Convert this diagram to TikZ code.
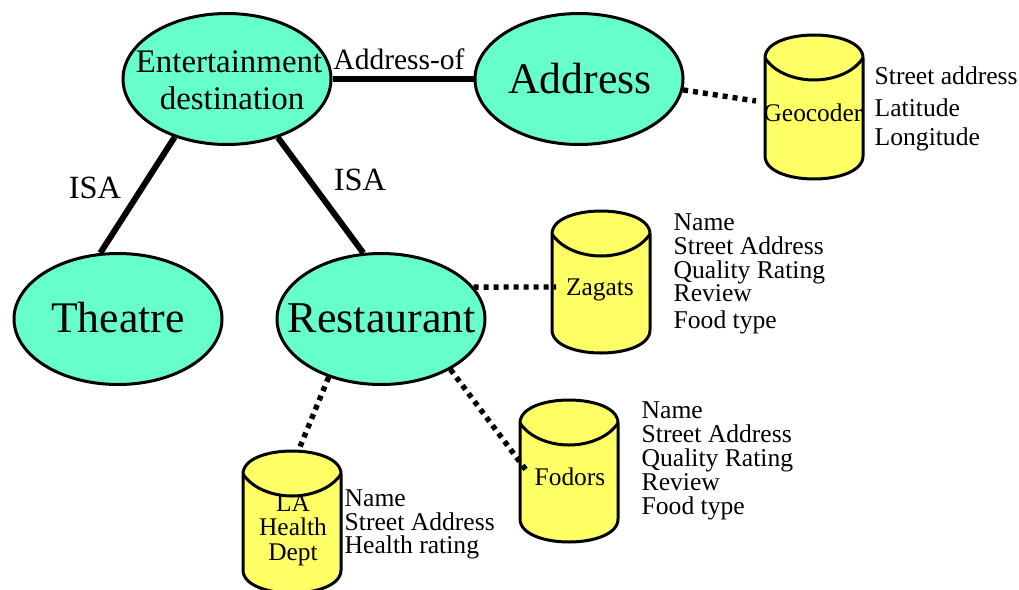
\documentclass[tikz,border=0pt]{standalone}
\usepackage{fontspec}
\setmainfont{Liberation Serif}
\usetikzlibrary{shapes.geometric}
\definecolor{aqua}{HTML}{66FFCC}
\definecolor{cylfill}{HTML}{FFFF66}
\newcommand{\fsz}[1]{\fontsize{#1}{#1}\selectfont}
\tikzset{
  entity/.style={ellipse,draw=black,line width=3pt,fill=aqua,inner sep=0pt,minimum width=208pt,minimum height=131pt},
  entitytext/.style={inner sep=0pt,align=center},
  solidlink/.style={line width=6pt,line cap=butt},
  dotlink/.style={line width=5.4pt,dash pattern=on 5pt off 5pt},
  cylbody/.style={draw=black,line width=3pt,fill=cylfill},
  cylarc/.style={draw=black,line width=3pt},
  cylbox/.style={inner sep=0pt,minimum width=98pt,minimum height=141pt},
  cyltext/.style={inner sep=0pt,align=center,font=\fsz{25.4}},
  attr/.style={anchor=base west,inner sep=0pt,font=\fsz{25.6}},
  linklabel/.style={anchor=base,inner sep=0pt}
}
\begin{document}
\begin{tikzpicture}[x=1pt,y=-1pt]
\useasboundingbox (0,0) rectangle (1019,589);

\foreach \cx/\ty/\bt in {814/35/121,601/211/119,569/400/119,292/451/119}{
  \draw[cylbody] (\cx-49,\ty+23) .. controls (\cx-49,\ty+8) and (\cx-25,\ty) .. (\cx,\ty)
     .. controls (\cx+25,\ty) and (\cx+49,\ty+8) .. (\cx+49,\ty+23)
     -- (\cx+49,\ty+\bt) .. controls (\cx+49,\ty+\bt+15) and (\cx+25,\ty+\bt+23) .. (\cx,\ty+\bt+23)
     .. controls (\cx-25,\ty+\bt+23) and (\cx-49,\ty+\bt+15) .. (\cx-49,\ty+\bt) -- cycle;
  \draw[cylarc] (\cx-49,\ty+23) .. controls (\cx-40,\ty+37) and (\cx-20,\ty+45) .. (\cx,\ty+45)
     .. controls (\cx+20,\ty+45) and (\cx+40,\ty+37) .. (\cx+49,\ty+23);
}

\node[entity] (ent) at (227,79) {};
\node[entity] (addr) at (579,79) {};
\node[entity] (thea) at (118,319) {};
\node[entity] (rest) at (381,319) {};
\node[entitytext,font=\fsz{32.9}] (entt) at (229,80) {Entertainment\\[4pt]\hspace{6pt}destination};
\node[entitytext,font=\fsz{43.7}] (addrt) at (580,79) {Address};
\node[entitytext,font=\fsz{43.7}] (theat) at (118,318) {Theatre};
\node[entitytext,font=\fsz{44}] (restt) at (382,318) {Restaurant};

\node[cylbox] (geo) at (814,106) {};
\node[cyltext] (geot) at (813,113) {Geocoder};
\node[cylbox] (zag) at (601,282) {};
\node[cyltext] (zagt) at (600,290) {Zagats};
\node[cylbox] (fod) at (569,471) {};
\node[cyltext] (fodt) at (570,477) {Fodors};
\node[cylbox] (la) at (292,522) {};
\node[cyltext] (lat) at (293,530) {LA\\[-1pt]Health\\[-1pt]Dept};

\draw[solidlink] (ent.0) -- (addr.180);
\draw[solidlink] (ent.-132) -- (thea.105);
\draw[solidlink] (ent.-49) -- (rest.105);

\coordinate (geoin) at (756,101);
\coordinate (fodin) at (526,470);
\coordinate (zagin) at (556,287);
\draw[dotlink] (addr.-6) -- (geoin);
\draw[dotlink] (rest.19) -- (zagin);
\draw[dotlink] (rest.-132) -- (la.85);
\draw[dotlink] (rest.-36) -- (fodin);

\node[linklabel,font=\fsz{29.5}] (lbaddr) at (399,69) {Address-of};
\node[linklabel,font=\fsz{32.4}] (lbisa1) at (95,198) {ISA};
\node[linklabel,font=\fsz{32.4}] (lbisa2) at (360,190) {ISA};

\node[attr] (g1) at (874.5,84) {Street address};
\node[attr] (g2) at (874.5,116) {Latitude};
\node[attr] (g3) at (874.5,145) {Longitude};

\node[attr] (z1) at (673.5,230) {Name};
\node[attr] (z2) at (673.5,254) {Street Address};
\node[attr] (z3) at (673.5,278) {Quality Rating};
\node[attr] (z4) at (673.5,301) {Review};
\node[attr] (z5) at (673.5,328) {Food type};

\node[attr] (f1) at (641.5,418) {Name};
\node[attr] (f2) at (641.5,442) {Street Address};
\node[attr] (f3) at (641.5,466) {Quality Rating};
\node[attr] (f4) at (641.5,490) {Review};
\node[attr] (f5) at (641.5,514) {Food type};

\node[attr] (l1) at (344.5,506) {Name};
\node[attr] (l2) at (344.5,530) {Street Address};
\node[attr] (l3) at (344.5,553) {Health rating};
\end{tikzpicture}
\end{document}
